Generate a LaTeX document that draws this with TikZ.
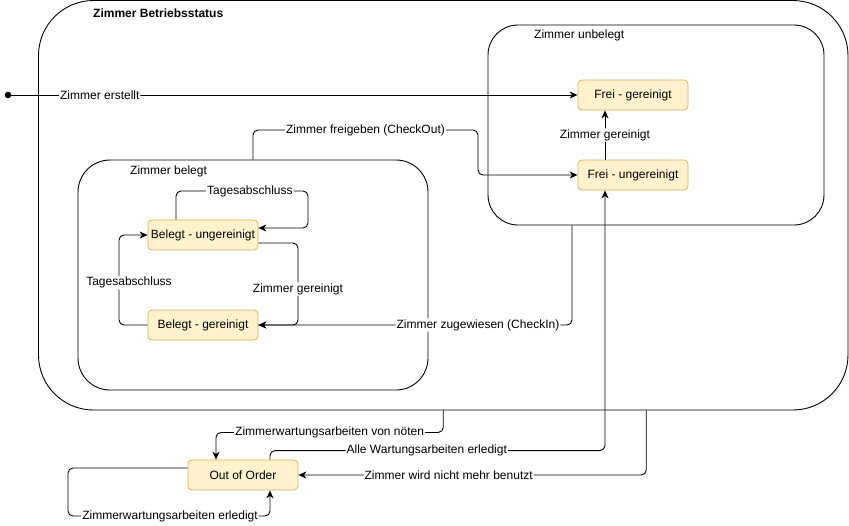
\documentclass[tikz,border=0pt]{standalone}
\usepackage{fontspec}
\setmainfont{Liberation Sans}
\usetikzlibrary{arrows.meta,positioning}
\definecolor{statefill}{HTML}{FFF2CC}
\definecolor{stateline}{HTML}{D6B656}
\tikzset{
  statebox/.style={draw=stateline, fill=statefill, rounded corners=4pt, line width=0.8pt,
    minimum width=110pt, minimum height=30pt, inner sep=0pt, font=\fontsize{12}{14}\selectfont},
  container/.style={draw, line width=0.9pt, inner sep=0pt},
  conn/.style={draw, line width=0.9pt, rounded corners=5pt, -{Stealth[length=8pt,width=7pt,inset=2.5pt]}},
  lbl/.style={fill=white, inner sep=1pt, font=\fontsize{12}{14}\selectfont},
  cname/.style={anchor=west, inner sep=0pt, font=\fontsize{12}{14}\selectfont},
}

\begin{document}
\begin{tikzpicture}[x=1pt,y=-1pt]
\useasboundingbox (0,0) rectangle (849,525);
%% containers
\node[container, rounded corners=55pt, minimum width=809.5pt, minimum height=409.5pt] (betrieb) at (443.25,205.25) {};
\node[container, rounded corners=30pt, minimum width=336pt, minimum height=200pt] (unbelegt) at (656,125) {};
\node[container, rounded corners=32pt, minimum width=350pt, minimum height=230pt] (belegt) at (253,275) {};
\node[cname, font={\fontsize{12}{14}\selectfont\bfseries}] (betriebname) at (93,13) {Zimmer Betriebsstatus};
\node[cname] (unbelegtname) at (534,35) {Zimmer unbelegt};
\node[cname] (belegtname) at (130,171) {Zimmer belegt};
%% states
\node[circle, fill, inner sep=0pt, minimum size=6.5pt] (start) at (8,95) {};
\node[statebox] (fg) at (633,95) {Frei - gereinigt};
\node[statebox] (fu) at (633,175) {Frei - ungereinigt};
\node[statebox] (bu) at (203,235) {Belegt - ungereinigt};
\node[statebox] (bg) at (203,325) {Belegt - gereinigt};
\node[statebox] (ooo) at (243,475) {Out of Order};
%% creation
\draw[conn] (start) -- node[lbl, pos=0.156] {Zimmer erstellt} (fg);
%% room free
\draw[conn] ([xshift=-28pt]fu.north) -- node[lbl] {Zimmer gereinigt} ([xshift=-28pt]fg.south);
\draw[conn] (belegt.north) |- node[lbl, pos=0.75] {Zimmer freigeben (CheckOut)} (478,130) |- (fu.west);
%% room occupied
\draw[conn] ([xshift=-27pt]bu.north) |- node[lbl, pos=0.78] {Tagesabschluss} (308,191) |- ([yshift=7pt]bu.east);
\draw[conn] ([yshift=-8pt]bu.east) -| node[lbl, pos=0.78] {Zimmer gereinigt} (298,325) -- (bg.east);
\draw[conn] (bg.west) -- (119,325) |- node[lbl, pos=0.235, xshift=10pt] {Tagesabschluss} (bu.west);
\draw[conn] ([xshift=-84pt]unbelegt.south) |- node[lbl, pos=0.65] {Zimmer zugewiesen (CheckIn)} (bg.east);
%% out of order
\draw[conn] (betrieb.south) -- ++(0,22) -| node[lbl, pos=0.25] {Zimmerwartungsarbeiten von nöten} ([xshift=-27pt]ooo.north);
\draw[conn] ([xshift=27pt]ooo.north) -- ++(0,-9) -| node[lbl, pos=0.234] {Alle Wartungsarbeiten erledigt} ([xshift=-28pt]fu.south);
\draw[conn] ([xshift=203pt]betrieb.south) |- node[lbl, pos=0.784] {Zimmer wird nicht mehr benutzt} (ooo.east);
\draw[conn] ([yshift=7pt]ooo.west) -| (68,516) -| node[lbl, pos=0.2525] {Zimmerwartungsarbeiten erledigt} ([xshift=27pt]ooo.south);
\end{tikzpicture}
\end{document}
